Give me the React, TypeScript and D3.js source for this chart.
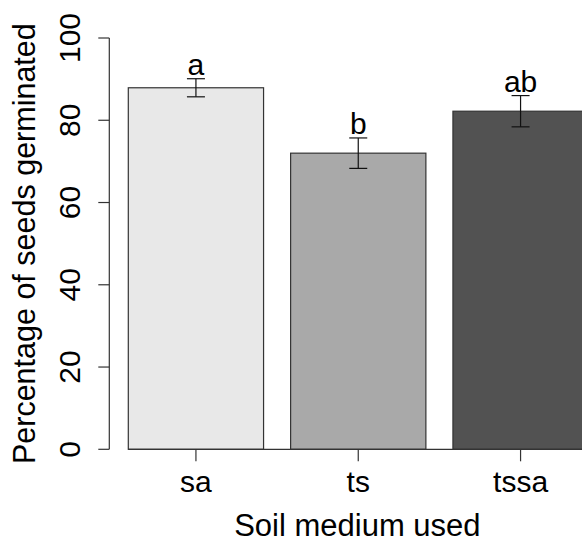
import React from "react";
import * as d3 from "d3";

const categories = ["sa", "ts", "tssa"];
const means = [87.9, 72.0, 82.2];
const errors = [2.2, 3.7, 3.8];
const letters = ["a", "b", "ab"];
const fills = ["#E8E8E8", "#A9A9A9", "#525252"];
const yTicks = [0, 20, 40, 60, 80, 100];

const W = 582;
const H = 543;
const FONT = "'Liberation Sans', Arial, sans-serif";

export default function App() {
  const x = d3
    .scaleBand<string>()
    .domain(categories)
    .range([128.3, 588.2])
    .paddingInner(1 / 6)
    .paddingOuter(0);
  const y = d3.scaleLinear().domain([0, 100]).range([449.3, 38]);
  const bw = x.bandwidth();
  const cap = 9;

  return (
    <svg
      width={W}
      height={H}
      style={{ position: "absolute", left: 0, top: 0, background: "#fff" }}
      fontFamily={FONT}
    >
      {/* bars */}
      {categories.map((c, i) => (
        <rect
          key={c}
          x={x(c)}
          y={y(means[i])}
          width={bw}
          height={y(0) - y(means[i])}
          fill={fills[i]}
          stroke="#333"
          strokeWidth={1.2}
        />
      ))}
      {/* baseline */}
      <line x1={x("sa")} x2={W} y1={y(0)} y2={y(0)} stroke="#333" strokeWidth={1.2} />
      {/* error bars */}
      {categories.map((c, i) => {
        const cx = (x(c) as number) + bw / 2;
        const t = y(means[i] + errors[i]);
        const b = y(means[i] - errors[i]);
        return (
          <g key={c} stroke="#111" strokeWidth={1.2}>
            <line x1={cx} x2={cx} y1={t} y2={b} />
            <line x1={cx - cap} x2={cx + cap} y1={t} y2={t} />
            <line x1={cx - cap} x2={cx + cap} y1={b} y2={b} />
          </g>
        );
      })}
      {/* letters */}
      {categories.map((c, i) => (
        <text
          key={c}
          x={(x(c) as number) + bw / 2}
          y={y(means[i] + errors[i]) - 4}
          textAnchor="middle"
          fontSize={30}
          fill="#000"
        >
          {letters[i]}
        </text>
      ))}
      {/* y axis */}
      <line x1={109.3} x2={109.3} y1={y(0)} y2={y(100)} stroke="#333" strokeWidth={1.2} />
      {yTicks.map((t) => (
        <g key={t}>
          <line x1={98.3} x2={109.3} y1={y(t)} y2={y(t)} stroke="#333" strokeWidth={1.2} />
          <text
            transform={`translate(80,${y(t)}) rotate(-90)`}
            textAnchor="middle"
            fontSize={30}
            fill="#000"
          >
            {t}
          </text>
        </g>
      ))}
      {/* x ticks */}
      {categories.map((c) => {
        const cx = (x(c) as number) + bw / 2;
        return (
          <g key={c}>
            <line x1={cx} x2={cx} y1={y(0)} y2={y(0) + 12} stroke="#333" strokeWidth={1.2} />
            <text x={cx} y={491.7} textAnchor="middle" fontSize={30} fill="#000">
              {c}
            </text>
          </g>
        );
      })}
      {/* axis titles */}
      <text x={357.4} y={536} textAnchor="middle" fontSize={31} fill="#000">
        Soil medium used
      </text>
      <text
        transform={`translate(35,${(y(0) + y(100)) / 2}) rotate(-90)`}
        textAnchor="middle"
        fontSize={30.5}
        fill="#000"
      >
        Percentage of seeds germinated
      </text>
    </svg>
  );
}
